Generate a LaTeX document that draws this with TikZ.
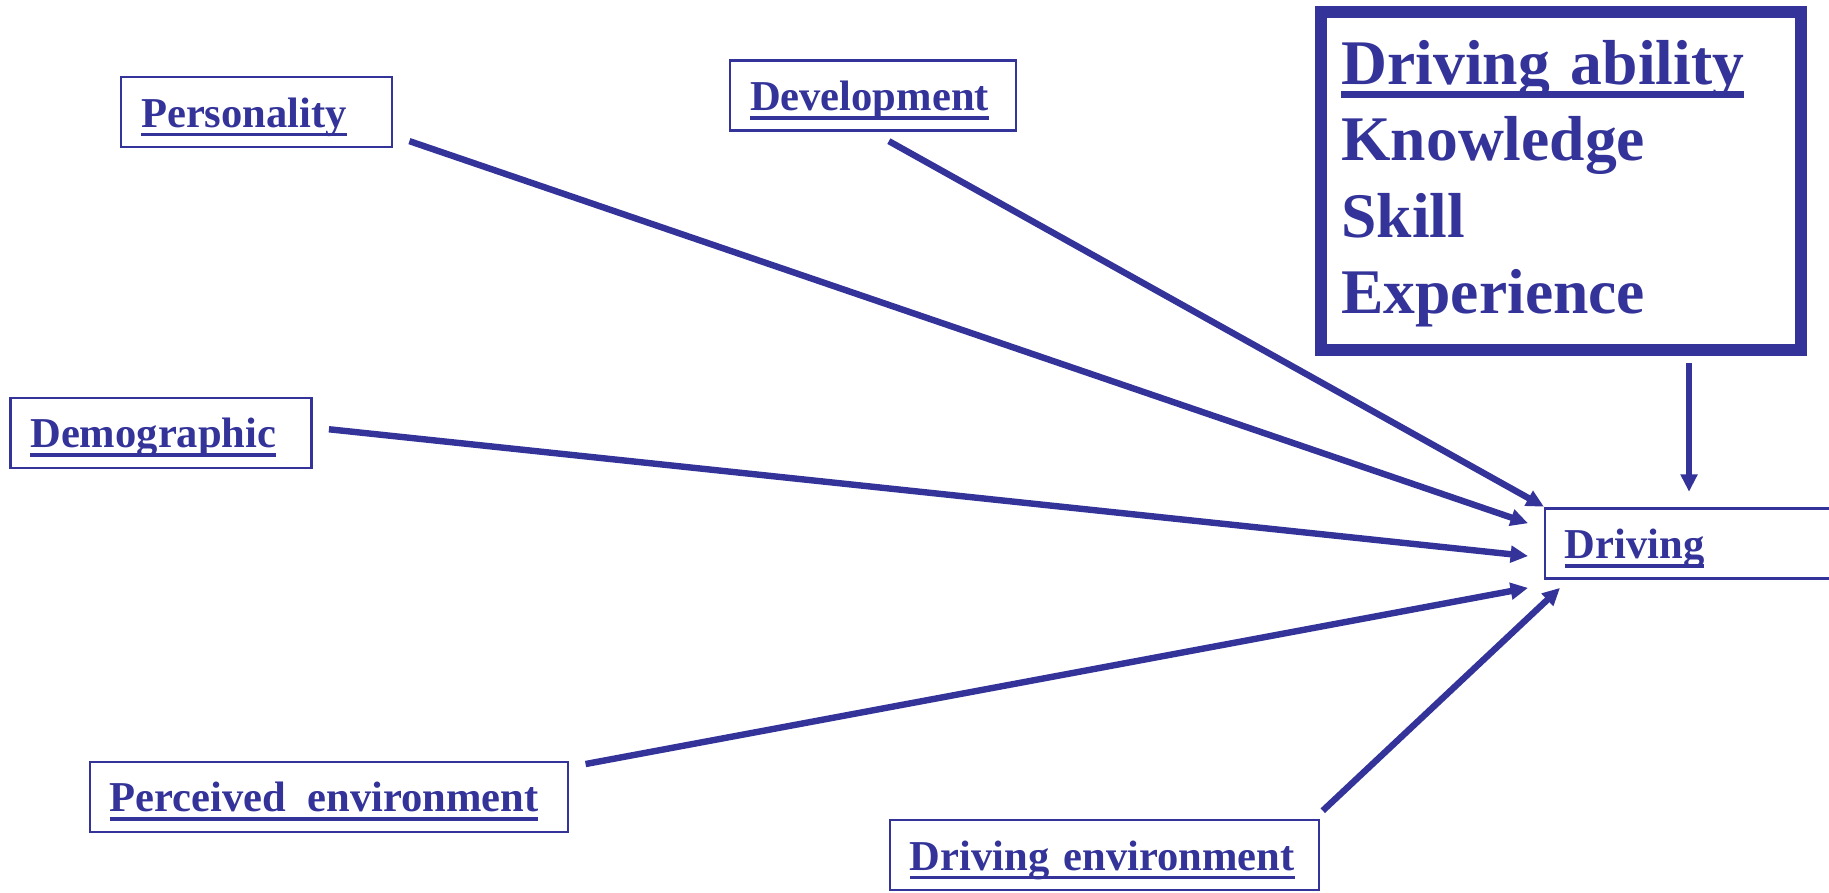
\documentclass[tikz,border=0pt]{standalone}
\usepackage{fontspec}
\setmainfont{Liberation Serif}
\usetikzlibrary{arrows.meta}
\definecolor{navy}{RGB}{51,51,153}
\newsavebox{\ulbox}
\newcommand{\ulx}[2][0.088em]{\sbox{\ulbox}{#2}\rlap{\rule[-0.215em]{\wd\ulbox}{#1}}\usebox{\ulbox}}

\begin{document}
\begin{tikzpicture}[x=1pt,y=-1pt,>={Triangle[length=15pt,width=14pt]},
    box/.style={draw=navy, line width=2pt, text=navy, anchor=north west, outer sep=0pt,
        font=\fontsize{36.5}{44}\selectfont\bfseries, align=left,
        inner xsep=17pt, inner ysep=0pt, text height=43pt, text depth=17pt},
    link/.style={->, draw=navy, line width=5.5pt}]
    \useasboundingbox (0,0) rectangle (1568,765);

    \node[box, text width=198pt] (pers) at (104,66)    {\ulx{Personality}};
    \node[box, text width=211pt] (dev)  at (626,52)    {\ulx{Development}};
    \node[box, text width=224pt] (demo) at (9,341)     {\ulx{Demographic}};
    \node[box, text width=376pt] (perc) at (77,653)    {\ulx{Perceived\hspace{0.5em}environment}};
    \node[box, text width=334pt] (denv) at (763,703)   {\ulx{Driving environment}};
    \node[box, text width=266pt] (drv)  at (1324.5,436) {\ulx{Driving}};

    % driving ability box
    \node[draw=navy, line width=10.5pt, text=navy, anchor=north west, outer sep=0pt,
        minimum width=411.5pt, minimum height=289.5pt, text width=376.5pt,
        inner xsep=17.5pt, align=left,
        font=\fontsize{54.5}{65.5}\selectfont\bfseries] (abil) at (1132.5,10.5)
        {\rule{0pt}{0.77em}\ulx[0.115em]{Driving ability}\\Knowledge\\Skill\\Experience};

    \coordinate (pers-out) at (351,121);
    \coordinate (dev-out)  at (762,121);
    \coordinate (demo-out) at (282,368);
    \coordinate (perc-out) at (502,655);
    \coordinate (denv-out) at (1134,695);
    \coordinate (abil-out) at (1448,311);
    \coordinate (drv-in1)  at (1323.6,434.4);
    \coordinate (drv-in2)  at (1310,448.6);
    \coordinate (drv-in3)  at (1310,476.7);
    \coordinate (drv-in4)  at (1310,504);
    \coordinate (drv-in5)  at (1337.4,504);
    \coordinate (drv-in6)  at (1448,421.6);

    \draw[link] (dev-out)  -- (drv-in1);
    \draw[link] (pers-out) -- (drv-in2);
    \draw[link] (demo-out) -- (drv-in3);
    \draw[link] (perc-out) -- (drv-in4);
    \draw[link] (denv-out) -- (drv-in5);
    \draw[link, line width=5pt] (abil-out) -- (drv-in6);
\end{tikzpicture}
\end{document}
